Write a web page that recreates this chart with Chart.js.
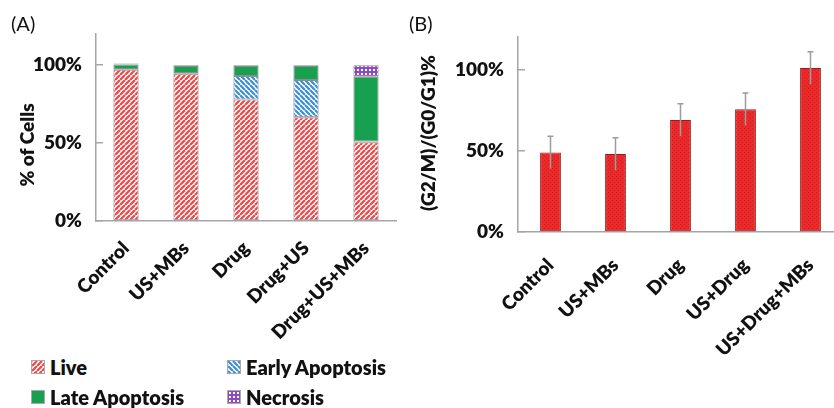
<!DOCTYPE html>
<html>
<head>
<meta charset="utf-8">
<script src="https://cdn.jsdelivr.net/npm/chart.js@4.4.1/dist/chart.umd.min.js"></script>
<style>
  html, body { margin: 0; padding: 0; background: #fff; overflow: hidden; }
  body { width: 834px; height: 408px; position: relative; font-family: Lato, "Open Sans", sans-serif; }
  #chartA { position: absolute; left: 0; top: 0; }
  #chartB { position: absolute; left: 420px; top: 0; }
  .panel { position: absolute; font-size: 20px; color: #111; }
  #legend {
    position: absolute; left: 31px; top: 352px;
    display: grid; grid-template-columns: 196px auto; grid-auto-rows: 30px;
    font-weight: 800; font-size: 20px; color: #111;
  }
  .item { display: flex; align-items: center; }
  .item canvas { border: 1px solid #aaa; margin-right: 5px; }
</style>
</head>
<body>
<canvas id="chartA" width="420" height="340"></canvas>
<canvas id="chartB" width="440" height="408"></canvas>
<div class="panel" style="left:11px; top:11px;">(A)</div>
<div class="panel" style="left:409px; top:11px;">(B)</div>
<div id="legend"></div>
<script>
// ─── DATA ────────────────────────────────────────────────────
const groupsA   = ['Control', 'US+MBs', 'Drug', 'Drug+US', 'Drug+US+MBs'];
const live      = [97, 94.5, 78, 66.5, 50.5];
const early     = [0.5, 0.5, 15, 24, 0.5];
const late      = [3, 4.5, 6.5, 9, 41.5];
const necrosis  = [0.5, 0.5, 0.5, 0.5, 7.5];
const seriesA   = ['Live', 'Early Apoptosis', 'Late Apoptosis', 'Necrosis'];

const groupsB   = ['Control', 'US+MBs', 'Drug', 'US+Drug', 'US+Drug+MBs'];
const ratio     = [49, 48, 69, 75.5, 101];
const ratioErr  = [10, 10, 10, 10, 10];

const yTicks    = [0, 50, 100];

// ─── PATTERNS ────────────────────────────────────────────────
function stripes(color, dir) {
    const c = document.createElement('canvas');
    c.width = c.height = 5;
    const g = c.getContext('2d');
    g.fillStyle = '#fff';
    g.fillRect(0, 0, 5, 5);
    g.strokeStyle = color;
    g.lineWidth = 2.2;
    g.beginPath();
    for (let k = -5; k <= 10; k += 5) {
        if (dir > 0) { g.moveTo(k, 5); g.lineTo(k + 5, 0); }
        else         { g.moveTo(k, 0); g.lineTo(k + 5, 5); }
    }
    g.stroke();
    return g.createPattern(c, 'repeat');
}

function plaid() {
    const c = document.createElement('canvas');
    c.width = c.height = 4;
    const g = c.getContext('2d');
    g.fillStyle = '#8a4cc0';
    g.fillRect(0, 0, 4, 4);
    g.fillStyle = '#fff';
    g.fillRect(1, 1, 2, 2);
    return g.createPattern(c, 'repeat');
}

function dotted() {
    const c = document.createElement('canvas');
    c.width = c.height = 4;
    const g = c.getContext('2d');
    g.fillStyle = '#ea2a2a';
    g.fillRect(0, 0, 4, 4);
    g.fillStyle = '#d21e22';
    g.fillRect(0, 0, 1, 1);
    g.fillRect(2, 2, 1, 1);
    return g.createPattern(c, 'repeat');
}

const fillsA = [stripes('#f04646', 1), stripes('#3a8dd6', -1), '#17a04f', plaid()];

// ─── PLUGINS ─────────────────────────────────────────────────
const sideTitle = {
    id: 'sideTitle',
    afterDraw(chart, args, o) {
        const ctx = chart.ctx;
        ctx.save();
        ctx.translate(o.x, o.y);
        ctx.rotate(-Math.PI / 2);
        ctx.font = '800 ' + o.size + 'px Lato';
        ctx.fillStyle = '#111';
        ctx.textAlign = 'center';
        ctx.textBaseline = 'middle';
        ctx.fillText(o.text, 0, 0);
        ctx.restore();
    }
};

const errorBars = {
    id: 'errorBars',
    afterDatasetsDraw(chart) {
        const { ctx, scales: { x, y } } = chart;
        ctx.save();
        ctx.strokeStyle = '#9c9c9c';
        ctx.lineWidth = 1.5;
        ratio.forEach((v, i) => {
            const px = x.getPixelForValue(i);
            const top = y.getPixelForValue(v + ratioErr[i]);
            const bot = y.getPixelForValue(v - ratioErr[i]);
            ctx.beginPath();
            ctx.moveTo(px, bot);
            ctx.lineTo(px, top);
            ctx.moveTo(px - 3, top);
            ctx.lineTo(px + 3, top);
            ctx.stroke();
        });
        ctx.restore();
    }
};

// ─── SHARED AXES ─────────────────────────────────────────────
const tickFont = { family: 'Lato', size: 19, weight: '800' };

function yAxis(width) {
    return {
        min: 0, max: 120,
        afterBuildTicks: s => { s.ticks = yTicks.map(v => ({ value: v })); },
        afterFit: s => { s.width = width; },
        ticks: { color: '#111', font: tickFont, padding: 21, callback: v => v + '%' },
        grid: { drawOnChartArea: false, tickLength: -7, color: '#a6a6a6', lineWidth: 1.5 },
        border: { color: '#a6a6a6', width: 1.5 }
    };
}

function xAxis(height, pad) {
    return {
        afterFit: s => { s.height = height; },
        ticks: { color: '#111', font: tickFont, minRotation: 45, maxRotation: 45, padding: pad, autoSkip: false },
        grid: { display: false },
        border: { color: '#a6a6a6', width: 1.5 }
    };
}

// ─── CHART A ─────────────────────────────────────────────────
const stackA = [live, early, late, necrosis];
new Chart(document.getElementById('chartA'), {
    type: 'bar',
    data: {
        labels: groupsA,
        datasets: stackA.map((d, k) => ({
            label: seriesA[k],
            data: d,
            backgroundColor: fillsA[k],
            borderColor: '#8c8c8c',
            borderWidth: 1,
            borderSkipped: false,
            barPercentage: 0.42,
            categoryPercentage: 1
        }))
    },
    options: {
        responsive: false,
        animation: false,
        layout: { padding: { top: 34, right: 24, left: 0, bottom: 0 } },
        plugins: {
            legend: { display: false },
            tooltip: { enabled: false },
            sideTitle: { text: '% of Cells', x: 28, y: 145, size: 19 }
        },
        scales: {
            x: Object.assign(xAxis(340 - 221, 8), { stacked: true }),
            y: Object.assign(yAxis(96), { stacked: true })
        }
    },
    plugins: [sideTitle]
});

// ─── CHART B ─────────────────────────────────────────────────
new Chart(document.getElementById('chartB'), {
    type: 'bar',
    data: {
        labels: groupsB,
        datasets: [{
            data: ratio,
            backgroundColor: dotted(),
            borderColor: '#9a1a1a',
            borderWidth: 1,
            borderSkipped: false,
            barPercentage: 0.32,
            categoryPercentage: 1
        }]
    },
    options: {
        responsive: false,
        animation: false,
        layout: { padding: { top: 37, right: 17, left: 0, bottom: 0 } },
        plugins: {
            legend: { display: false },
            tooltip: { enabled: false },
            sideTitle: { text: '(G2/M)/(G0/G1)%', x: 9, y: 133, size: 19 }
        },
        scales: {
            x: xAxis(408 - 232, 14),
            y: yAxis(98)
        }
    },
    plugins: [sideTitle, errorBars]
});

// ─── LEGEND ──────────────────────────────────────────────────
const legend = document.getElementById('legend');
seriesA.forEach((name, k) => {
    const item = document.createElement('div');
    item.className = 'item';
    const sw = document.createElement('canvas');
    sw.width = sw.height = 12;
    const g = sw.getContext('2d');
    g.fillStyle = fillsA[k];
    g.fillRect(0, 0, 12, 12);
    item.appendChild(sw);
    item.appendChild(document.createTextNode(name));
    legend.appendChild(item);
});
</script>
</body>
</html>
